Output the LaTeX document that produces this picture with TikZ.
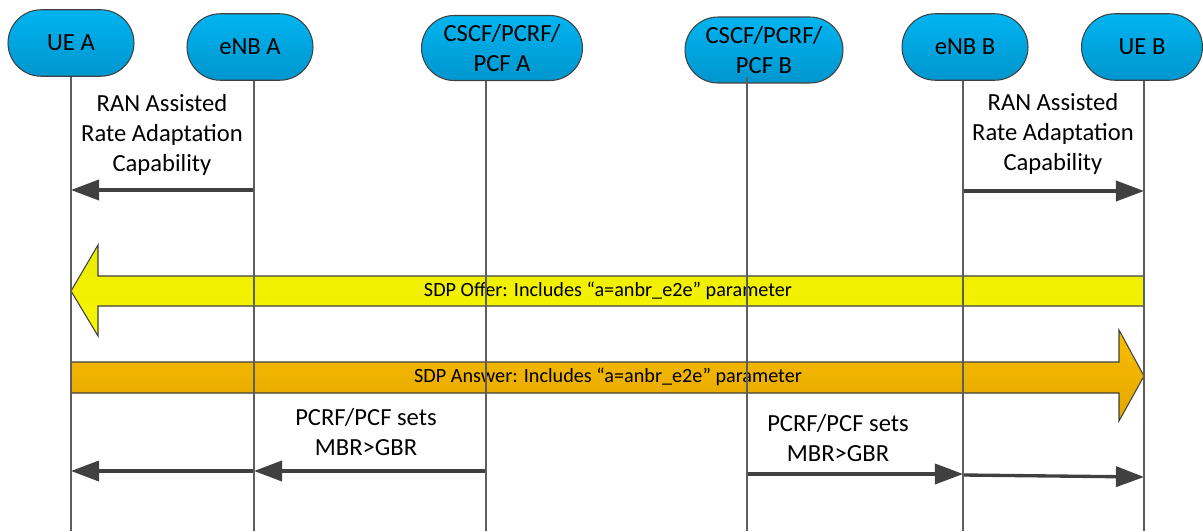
\documentclass[tikz,border=0pt]{standalone}
\usepackage{fontspec}
\setmainfont{Carlito}
\usetikzlibrary{arrows.meta,shapes.misc}
\definecolor{nodetop}{HTML}{00B4F0}
\definecolor{nodebot}{HTML}{0096CE}
\definecolor{linegray}{HTML}{5E5E5E}
\definecolor{msggray}{HTML}{404040}
\definecolor{offertop}{HTML}{EAEA00}
\definecolor{offerbot}{HTML}{F8F800}
\definecolor{answertop}{HTML}{F8BE00}
\definecolor{answerbot}{HTML}{E4A600}
\begin{document}
\begin{tikzpicture}[x=0.02cm,y=-0.02cm,
  entity/.style={rounded rectangle,draw=msggray,line width=0.6pt,top color=nodetop,bottom color=nodebot,
    minimum height=1.33cm,inner sep=0pt,align=center,font=\fontsize{14}{17}\selectfont},
  lifeline/.style={linegray,line width=0.8pt},
  msg/.style={msggray,line width=1.9pt,-{Triangle[length=16pt,width=11.5pt]}},
  msgtext/.style={align=center,font=\fontsize{14}{17}\selectfont},
  sdptext/.style={font=\fontsize{11.5}{13}\selectfont},
  blockarrow/.style={draw=msggray,line width=0.6pt}]
\useasboundingbox (0,0) rectangle (1203,531);
\node[entity,minimum width=2.52cm] (uea) at (71,43) {UE A};
\node[entity,minimum width=2.52cm] (enba) at (250,47) {eNB A};
\node[entity,minimum width=3.22cm,minimum height=1.30cm] (cscfa) at (502,48) {CSCF/PCRF/\\PCF A};
\node[entity,minimum width=3.16cm,minimum height=1.32cm] (cscfb) at (764,50) {CSCF/PCRF/\\PCF B};
\node[entity,minimum width=2.52cm] (enbb) at (965,47) {eNB B};
\node[entity,minimum width=2.42cm] (ueb) at (1142,47) {UE B};
\coordinate (lUEA) at (71,531);
\coordinate (lENBA) at (254,531);
\coordinate (lCSCFA) at (486,531);
\coordinate (lCSCFB) at (747,531);
\coordinate (lENBB) at (963,531);
\coordinate (lUEB) at (1144,531);
\node[msgtext] (capa) at (162,135) {RAN Assisted\\Rate Adaptation\\Capability};
\node[msgtext] (capb) at (1053,134) {RAN Assisted\\Rate Adaptation\\Capability};
\draw[msg] (lENBA |- 0,190) -- (lUEA |- 0,190);
\draw[msg] (lENBB |- 0,191) -- (lUEB |- 0,191);
\draw[blockarrow,top color=offertop,bottom color=offerbot]
  (lUEB |- 0,276) -- (98,276) -- (98,245) -- (lUEA |- 0,291) -- (98,336) -- (98,306) -- (lUEB |- 0,306) -- cycle;
\node[sdptext] (offer) at (608,291) {SDP Offer: Includes “a=anbr\_e2e” parameter};
\draw[blockarrow,top color=answertop,bottom color=answerbot]
  (lUEA |- 0,362) -- (1119,362) -- (1119,330) -- (lUEB |- 0,376) -- (1119,421) -- (1119,393) -- (lUEA |- 0,393) -- cycle;
\node[sdptext] (answer) at (608,377) {SDP Answer: Includes “a=anbr\_e2e” parameter};
\node[msgtext] (mbra) at (366,432) {PCRF/PCF sets\\MBR>GBR};
\node[msgtext] (mbrb) at (838,438) {PCRF/PCF sets\\MBR>GBR};
\draw[msg] (lCSCFA |- 0,471) -- (lENBA |- 0,471);
\draw[msg] (lENBA |- 0,471) -- (lUEA |- 0,471);
\draw[msg] (lCSCFB |- 0,474) -- (lENBB |- 0,474);
\draw[msg] (lENBB |- 0,475) -- (lUEB |- 0,477);
\draw[lifeline] (lUEA |- uea.south) -- (lUEA);
\draw[lifeline] (lENBA |- enba.south) -- (lENBA);
\draw[lifeline] (lCSCFA |- cscfa.south) -- (lCSCFA);
\draw[lifeline] (lCSCFB |- 0,77) -- (lCSCFB);
\draw[lifeline] (lENBB |- enbb.south) -- (lENBB);
\draw[lifeline] (lUEB |- ueb.south) -- (lUEB);
\end{tikzpicture}
\end{document}
